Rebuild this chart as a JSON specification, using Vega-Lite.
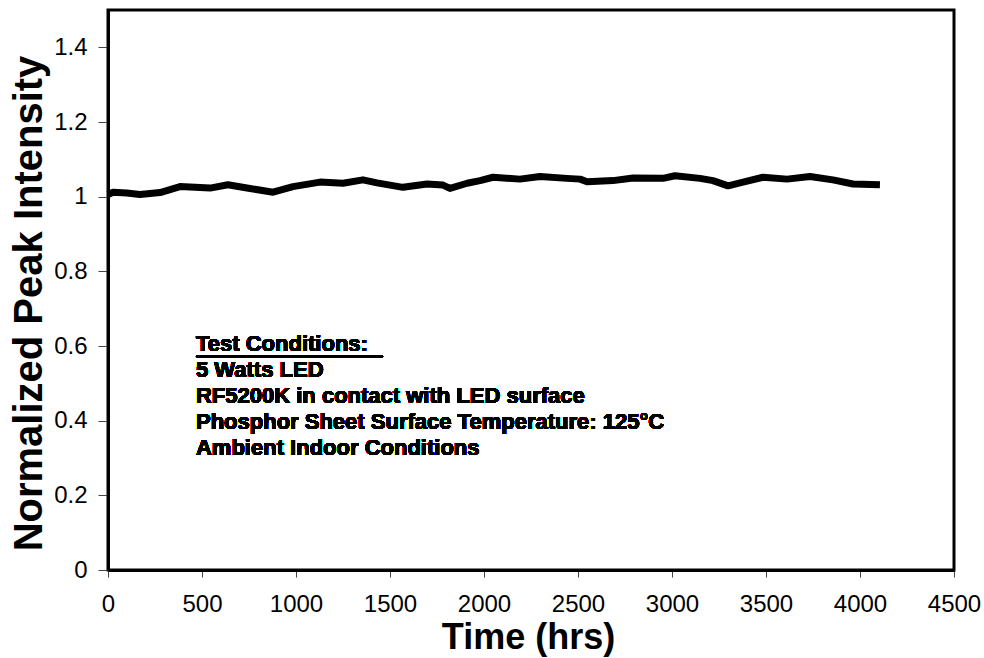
{
  "$schema": "https://vega.github.io/schema/vega-lite/v6.json",
  "autosize": "none",
  "width": 846,
  "height": 560,
  "padding": {"left": 108, "top": 10, "right": 30, "bottom": 88},
  "background": "white",
  "config": {
    "view": {"stroke": "black", "strokeWidth": 3},
    "font": "Liberation Sans",
    "axis": {
      "grid": false,
      "domainColor": "black",
      "domainWidth": 3,
      "tickColor": "#444",
      "tickWidth": 1,
      "labelFont": "Liberation Sans",
      "labelFontSize": 24,
      "labelColor": "black",
      "titleFont": "Liberation Sans",
      "titleFontWeight": "bold",
      "titleColor": "black"
    }
  },
  "data": {
    "values": [
      {"hours": 0, "intensity": 1.006},
      {"hours": 27, "intensity": 1.012},
      {"hours": 100, "intensity": 1.010},
      {"hours": 170, "intensity": 1.006},
      {"hours": 277, "intensity": 1.011},
      {"hours": 383, "intensity": 1.027},
      {"hours": 543, "intensity": 1.023},
      {"hours": 638, "intensity": 1.032},
      {"hours": 755, "intensity": 1.022},
      {"hours": 878, "intensity": 1.012},
      {"hours": 984, "intensity": 1.027},
      {"hours": 1128, "intensity": 1.039},
      {"hours": 1250, "intensity": 1.036},
      {"hours": 1356, "intensity": 1.045},
      {"hours": 1431, "intensity": 1.037},
      {"hours": 1569, "intensity": 1.025},
      {"hours": 1697, "intensity": 1.034},
      {"hours": 1782, "intensity": 1.031},
      {"hours": 1819, "intensity": 1.022},
      {"hours": 1910, "intensity": 1.036},
      {"hours": 1979, "intensity": 1.043},
      {"hours": 2048, "intensity": 1.052},
      {"hours": 2191, "intensity": 1.047},
      {"hours": 2298, "intensity": 1.054},
      {"hours": 2441, "intensity": 1.049},
      {"hours": 2511, "intensity": 1.047},
      {"hours": 2548, "intensity": 1.040},
      {"hours": 2686, "intensity": 1.043},
      {"hours": 2793, "intensity": 1.050},
      {"hours": 2952, "intensity": 1.049},
      {"hours": 3016, "intensity": 1.056},
      {"hours": 3149, "intensity": 1.049},
      {"hours": 3218, "intensity": 1.043},
      {"hours": 3298, "intensity": 1.029},
      {"hours": 3378, "intensity": 1.039},
      {"hours": 3484, "intensity": 1.052},
      {"hours": 3612, "intensity": 1.047},
      {"hours": 3734, "intensity": 1.054},
      {"hours": 3856, "intensity": 1.045},
      {"hours": 3963, "intensity": 1.034},
      {"hours": 4106, "intensity": 1.032}
    ]
  },
  "layer": [
    {
      "mark": {"type": "line", "color": "black", "strokeWidth": 7, "strokeJoin": "round", "strokeCap": "butt"},
      "encoding": {
        "x": {
          "field": "hours",
          "type": "quantitative",
          "scale": {"domain": [0, 4500], "nice": false, "zero": false},
          "axis": {
            "title": "Time (hrs)",
            "titleFontSize": 36,
            "values": [0, 500, 1000, 1500, 2000, 2500, 3000, 3500, 4000, 4500],
            "format": "d",
            "labelFlush": false,
            "tickSize": 7,
            "labelPadding": 15,
            "titleAnchor": "middle",
            "titleBaseline": "middle",
            "titleY": 67,
            "titleX": 420
          }
        },
        "y": {
          "field": "intensity",
          "type": "quantitative",
          "scale": {"domain": [0, 1.5], "nice": false},
          "axis": {
            "title": "Normalized Peak Intensity",
            "titleFontSize": 40,
            "values": [0, 0.2, 0.4, 0.6, 0.8, 1, 1.2, 1.4],
            "format": "~g",
            "labelFlush": false,
            "tickSize": 10,
            "labelPadding": 11,
            "titleAngle": 270,
            "titleAlign": "center",
            "titleBaseline": "middle",
            "titleX": -79,
            "titleY": 293
          }
        }
      }
    },
    {
      "mark": {
        "type": "text",
        "align": "left",
        "baseline": "alphabetic",
        "fontSize": 22,
        "fontWeight": "bold",
        "color": "black",
        "lineHeight": 26,
        "text": [
          "Test Conditions:",
          "5 Watts LED",
          "RF5200K in contact with LED surface",
          "Phosphor Sheet Surface Temperature: 125°C",
          "Ambient Indoor Conditions"
        ]
      },
      "encoding": {
        "x": {"datum": 468},
        "y": {"datum": 0.5856}
      }
    },
    {
      "mark": {"type": "rule", "color": "black", "strokeWidth": 2},
      "encoding": {
        "x": {"datum": 468},
        "x2": {"datum": 1463},
        "y": {"datum": 0.572}
      }
    }
  ]
}
